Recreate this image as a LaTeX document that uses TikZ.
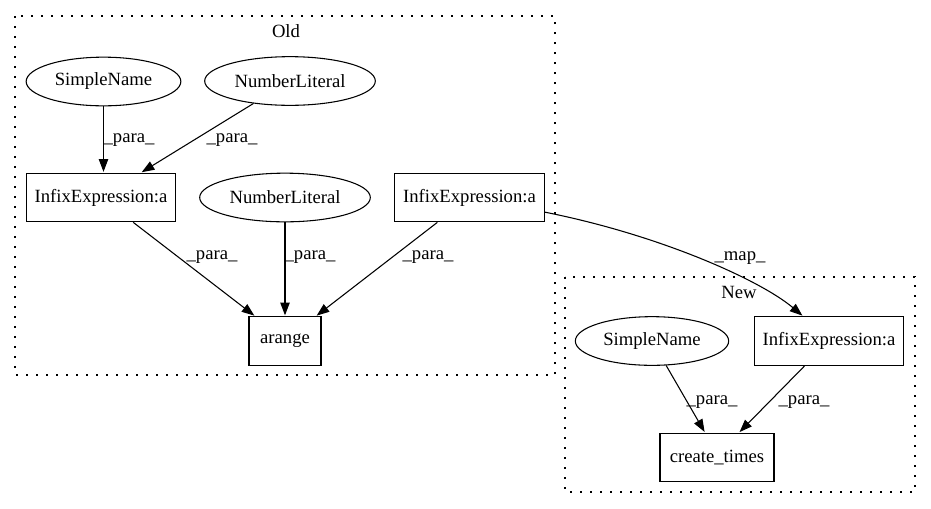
\documentclass[tikz,border=0pt]{standalone}
\usepackage{fontspec}
\setmainfont{Liberation Serif}
\usetikzlibrary{shapes.geometric,arrows.meta}
\begin{document}
\begin{tikzpicture}[x=0.75pt,y=-0.75pt,
  every node/.style={font=\fontsize{14}{16}\selectfont},
  ell/.style={draw, ellipse, inner sep=0pt, minimum height=36.5pt, line width=0.8pt},
  boxn/.style={draw, rectangle, inner sep=0pt, minimum height=36.5pt, line width=0.8pt},
  edge/.style={line width=0.8pt, shorten >=0.6pt, -{Triangle[length=9.5pt,width=7pt]}},
  lbl/.style={inner sep=0pt},
  clus/.style={line width=0.9pt, dash pattern=on 1.2pt off 6.3pt}]
\useasboundingbox (0,0) rectangle (931,508);
% clusters
\draw[clus] (15,16) rectangle (555,375);
\draw[clus] (565,277) rectangle (915,492);
\node (old) at (286,31) {Old};
\node (new) at (739,292) {New};
% nodes
\node[ell, minimum width=116pt] (sn1) at (103.5,81.5) {SimpleName};
\node[ell, minimum width=128pt] (nl1) at (290,81) {NumberLiteral};
\node[boxn, minimum width=112pt] (inf1) at (101,197.5) {InfixExpression:a};
\node[ell, minimum width=128pt] (nl2) at (285,197.5) {NumberLiteral};
\node[boxn, minimum width=112pt] (infR) at (469.5,197.5) {InfixExpression:a};
\node[boxn, minimum width=54pt] (ar) at (285,341) {arange};
\node[ell, minimum width=115pt] (snN) at (652,341) {SimpleName};
\node[boxn, minimum width=112pt] (infN) at (829,341) {InfixExpression:a};
\node[boxn, minimum width=85.5pt] (ct) at (717,457.5) {create\_times};
% edges
\draw[edge] (sn1.south) -- (sn1.south |- inf1.north);
\draw[edge] (nl1) -- ([xshift=30pt]inf1.north);
\draw[edge] (inf1) -- ([xshift=-22.5pt]ar.north);
\draw[edge] (nl2) -- (ar);
\draw[edge] (infR) -- ([xshift=23.25pt]ar.north);
\draw[edge] (infR.-11) .. controls (660,235) and (760,280) .. ([xshift=-19.5pt]infN.north);
\draw[edge] (snN) -- ([xshift=-9pt]ct.north);
\draw[edge] (infN) -- ([xshift=16.5pt]ct.north);
% edge labels
\node[lbl] (p1) at (129,140) {\_para\_};
\node[lbl] (p2) at (232,140) {\_para\_};
\node[lbl] (p3) at (212,257) {\_para\_};
\node[lbl] (p4) at (310,257) {\_para\_};
\node[lbl] (p5) at (428,257) {\_para\_};
\node[lbl] (m1) at (740,258) {\_map\_};
\node[lbl] (p6) at (712,402) {\_para\_};
\node[lbl] (p7) at (804,402) {\_para\_};
\end{tikzpicture}
\end{document}
